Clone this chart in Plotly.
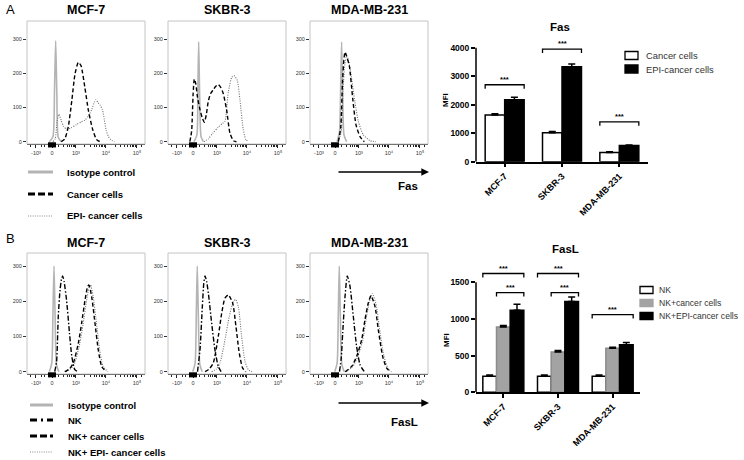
import plotly.graph_objects as go

W, H = 744, 460
FONT = "Liberation Sans, Arial, sans-serif"

# ------------------------------------------------------------------ data
hist_titles = ["MCF-7", "SKBR-3", "MDA-MB-231"]
fas_hist_series = ["Isotype control", "Cancer cells", "EPI- cancer cells"]
fasl_hist_series = ["Isotype control", "NK", "NK+ cancer cells", "NK+ EPI- cancer cells"]
flow_tick_pos = [7.6, 21.2, 41.5, 66.9, 93.2]          # channel % of the display scale
flow_tick_labels = ["-10³", "0", "10³", "10⁴", "10⁵"]
count_ticks = [0, 100, 200, 300]

# Panel A (Fas) histograms: x = channel (% of display), y = count
a1_iso_x = [19, 22, 23.3, 24.3, 25.3, 26.5, 29]
a1_iso_y = [0, 15, 150, 295, 140, 12, 0]
a1_can_x = [29, 32, 35, 38, 40.7, 43.5, 45.8, 49, 52, 55.7, 59, 62]
a1_can_y = [0, 8, 44, 121, 198, 232, 222, 159, 92, 35, 6, 0]
a1_epi_x = [22, 24, 25.5, 27, 29, 31, 33.5, 37, 42, 46, 49, 52, 55, 57, 58.5, 60, 62, 64, 65.5, 67, 69, 71, 74]
a1_epi_y = [0, 10, 60, 80, 62, 45, 37, 40, 50, 58, 63, 75, 95, 115, 123, 115, 107, 92, 65, 35, 15, 6, 0]

a2_iso_x = [22, 24.5, 25.3, 26, 26.8, 28, 30]
a2_iso_y = [0, 20, 150, 292, 140, 15, 0]
a2_can_x = [18.5, 20, 21.3, 22.3, 23.5, 25, 27, 29, 30.8, 32.5, 34, 36, 38.4, 40.5, 42.6, 44.8, 46.9, 49.7, 52.5, 55.4, 58]
a2_can_y = [0, 30, 140, 183, 170, 130, 95, 70, 57, 80, 115, 140, 152, 162, 167, 158, 140, 92, 25, 3, 0]
a2_epi_x = [30.5, 34, 38, 42.4, 46.4, 48.3, 51.1, 54, 55.9, 58.7, 61, 63.8, 66, 68.5]
a2_epi_y = [0, 8, 25, 42, 54, 60, 145, 188, 193, 179, 121, 35, 6, 0]

a3_iso_x = [23, 25, 26, 26.8, 27.6, 28.8, 31]
a3_iso_y = [0, 30, 160, 291, 150, 20, 0]
a3_can_x = [24, 26, 27.5, 28.7, 29.7, 31, 33.3, 36.2, 39, 42.4, 46]
a3_can_y = [0, 40, 170, 240, 262, 250, 222, 126, 49, 15, 0]
a3_epi_x = [24, 26.5, 28, 29.5, 31.1, 32.5, 34.5, 38.1, 41, 45.2, 50.8, 56]
a3_epi_y = [0, 30, 150, 225, 251, 240, 203, 116, 59, 20, 3, 0]

# Panel B (FasL) histograms
b1_iso_x = [19, 21, 22, 22.9, 23.8, 25, 27]
b1_iso_y = [0, 25, 170, 300, 160, 20, 0]
b1_nk_x = [23.5, 25.1, 26.5, 28, 29.2, 30.2, 31.5, 33.5, 36, 38, 40.5, 43]
b1_nk_y = [0, 30, 157, 232, 262, 272, 255, 204, 110, 43, 6, 0]
b1_cn_x = [32, 36, 39.3, 43.5, 46.3, 49.2, 51.4, 52.5, 54.8, 57.6, 60.4, 63.3, 67]
b1_cn_y = [0, 8, 25, 81, 138, 204, 242, 246, 213, 138, 62, 15, 0]
b1_epi_x = [33, 37, 40.5, 44.7, 47.5, 50.4, 52.6, 53.8, 56, 58.8, 61.6, 64.5, 68.5]
b1_epi_y = [0, 8, 25, 80, 135, 200, 240, 247, 215, 140, 62, 15, 0]

b2_iso_x = [21, 23, 24, 24.8, 25.7, 27, 29]
b2_iso_y = [0, 25, 170, 300, 160, 20, 0]
b2_nk_x = [25, 27.1, 29.1, 30.3, 31.4, 32.8, 34.2, 37, 39.8, 42.6, 45]
b2_nk_y = [0, 62, 185, 250, 272, 255, 223, 138, 62, 15, 0]
b2_cn_x = [31.4, 35, 38.4, 42.6, 45.5, 48.3, 51.1, 54.8, 57.6, 60.4, 63.3, 66]
b2_cn_y = [0, 8, 25, 100, 166, 209, 218, 195, 128, 53, 10, 0]
b2_epi_x = [37, 41, 44.1, 48.3, 51.9, 55.4, 57.3, 59.6, 62.4, 65.3, 68, 71]
b2_epi_y = [0, 8, 25, 91, 157, 199, 205, 185, 100, 29, 6, 0]

b3_iso_x = [21, 23, 24, 24.8, 25.7, 27, 29]
b3_iso_y = [0, 25, 170, 300, 160, 20, 0]
b3_nk_x = [25, 26.5, 27.7, 29.7, 31.6, 33.9, 36.7, 39.5, 42.4, 46]
b3_nk_y = [0, 40, 110, 214, 272, 242, 157, 72, 20, 0]
b3_cn_x = [29.7, 35.3, 39.5, 43.8, 46.6, 49.4, 51.7, 55.1, 57.9, 61.6, 65, 68]
b3_cn_y = [0, 15, 43, 91, 148, 195, 216, 185, 119, 43, 10, 0]
b3_epi_x = [30.7, 36.3, 40.5, 44.8, 47.6, 50.4, 52.8, 56.1, 58.9, 62.6, 66, 69]
b3_epi_y = [0, 15, 43, 91, 150, 200, 222, 190, 122, 45, 10, 0]

# Bar charts
bar_categories = ["MCF-7", "SKBR-3", "MDA-MB-231"]
fas_series = ["Cancer cells", "EPI-cancer cells"]
fas_cancer = [1640, 1020, 320]
fas_cancer_err = [40, 40, 25]
fas_epi = [2170, 3330, 570]
fas_epi_err = [90, 100, 20]
fas_ticks = [0, 1000, 2000, 3000, 4000]

fasl_series = ["NK", "NK+cancer cells", "NK+EPI-cancer cells"]
fasl_nk = [220, 220, 220]
fasl_nk_err = [15, 15, 15]
fasl_cancer = [890, 550, 600]
fasl_cancer_err = [20, 20, 15]
fasl_epi = [1120, 1240, 650]
fasl_epi_err = [80, 60, 30]
fasl_ticks = [0, 500, 1000, 1500]
sig_label = "***"
# significance brackets: (category, left offset, right offset, height)
fas_sig = [("MCF-7", -0.34, 0.34, 2700), ("SKBR-3", -0.34, 0.34, 3950), ("MDA-MB-231", -0.34, 0.34, 1400)]
fasl_sig = [("MCF-7", -0.375, 0.375, 1620), ("MCF-7", -0.125, 0.375, 1360),
            ("SKBR-3", -0.375, 0.375, 1620), ("SKBR-3", -0.125, 0.375, 1360),
            ("MDA-MB-231", -0.375, 0.375, 1060)]

# ------------------------------------------------------------------ helpers
def px(x):
    return x / W


def py(y):
    return 1 - y / H


def note(text, x, y, size, color="black", xanchor="center", **kw):
    return dict(text=text, x=px(x), y=py(y), xref="paper", yref="paper", xanchor=xanchor,
                yanchor="middle", showarrow=False, font=dict(family=FONT, size=size, color=color), **kw)


styles = {
    "iso": dict(color="#b4b4b4", width=1.6),
    "can": dict(color="black", width=1.4, dash="4px,2.5px"),
    "epi": dict(color="#6e6e6e", width=1.1, dash="1px,1.4px"),
    "nk": dict(color="black", width=1.4, dash="5px,2px,1.5px,2px"),
}

fig = go.Figure()
layout = {}
shapes = []
annotations = []


def axid(n):
    return ("x" if n == 1 else f"x{n}"), ("y" if n == 1 else f"y{n}")


def lname(n, a):
    return f"{a}axis" if n == 1 else f"{a}axis{n}"


hist_cols = [(27, 145), (168, 286), (310, 428)]
hist_rows = [((21, 144), [-6.7, 352.6], 10), ((253, 374), [-6.5, 337], 243)]

minor_flow = [3, 12, 15, 26.5, 31, 34, 36.3, 38, 39.3, 40.5, 49.1, 53.6, 56.8, 59.3, 61.3,
              63.0, 64.4, 65.7, 74.8, 79.4, 82.7, 85.3, 87.4, 89.1, 90.6, 92.0, 97]

panels = [
    [(a1_iso_x, a1_iso_y, "iso"), (a1_epi_x, a1_epi_y, "epi"), (a1_can_x, a1_can_y, "can")],
    [(a2_iso_x, a2_iso_y, "iso"), (a2_epi_x, a2_epi_y, "epi"), (a2_can_x, a2_can_y, "can")],
    [(a3_iso_x, a3_iso_y, "iso"), (a3_epi_x, a3_epi_y, "epi"), (a3_can_x, a3_can_y, "can")],
    [(b1_iso_x, b1_iso_y, "iso"), (b1_epi_x, b1_epi_y, "epi"), (b1_nk_x, b1_nk_y, "nk"), (b1_cn_x, b1_cn_y, "can")],
    [(b2_iso_x, b2_iso_y, "iso"), (b2_epi_x, b2_epi_y, "epi"), (b2_nk_x, b2_nk_y, "nk"), (b2_cn_x, b2_cn_y, "can")],
    [(b3_iso_x, b3_iso_y, "iso"), (b3_epi_x, b3_epi_y, "epi"), (b3_nk_x, b3_nk_y, "nk"), (b3_cn_x, b3_cn_y, "can")],
]

n = 0
for r, ((ytop, ybot), yr, ty) in enumerate(hist_rows):
    for c, (xl, xr) in enumerate(hist_cols):
        n += 1
        xa, ya = axid(n)
        for xs, ys, st in panels[n - 1]:
            fig.add_trace(go.Scatter(x=xs, y=ys, mode="lines", xaxis=xa, yaxis=ya,
                                     line=dict(**styles[st], shape="spline", smoothing=0.6),
                                     hoverinfo="skip", showlegend=False))
        layout[lname(n, "x")] = dict(
            domain=[px(xl), px(xr)], range=[0, 100], anchor=ya, showgrid=False, zeroline=False,
            showline=True, linecolor="#222", linewidth=1, ticks="outside", ticklen=3, tickwidth=1,
            tickcolor="#222", tickvals=flow_tick_pos, ticktext=flow_tick_labels,
            tickfont=dict(family=FONT, size=5.5, color="#333"),
            minor=dict(tickvals=minor_flow, ticks="outside", ticklen=2, tickcolor="#222", showgrid=False),
        )
        layout[lname(n, "y")] = dict(
            domain=[py(ybot), py(ytop)], range=yr, anchor=xa, showgrid=False, zeroline=False,
            showline=False, ticks="outside", ticklen=3, tickwidth=1, tickcolor="#333",
            tickvals=count_ticks, tickfont=dict(family=FONT, size=5.5, color="#333"),
        )
        shapes.append(dict(type="rect", xref=f"{xa} domain", yref=f"{ya} domain", x0=0, x1=1, y0=0, y1=1,
                           line=dict(color="#c4c4c4", width=1), layer="above"))
        shapes.append(dict(type="rect", xref=xa, yref=f"{ya} domain", x0=17.8, x1=24.6, y0=-0.028, y1=0.014,
                           line=dict(width=0), fillcolor="black", layer="above"))
        annotations.append(note(f"<b>{hist_titles[c]}</b>", (xl + xr) / 2, ty, 12.5))

# panel letters
annotations.append(note("A", 4, 9, 13, xanchor="left"))
annotations.append(note("B", 4, 238, 13, xanchor="left"))

# histogram legends (line samples + text)
leg_A = [(172, "iso"), (194, "can"), (216, "epi")]
leg_B = [(405, "iso"), (420, "nk"), (436, "can"), (452, "epi")]
leg_line_style = {
    "iso": dict(color="#b4b4b4", width=3),
    "can": dict(color="black", width=3, dash="7px,3px"),
    "epi": dict(color="#8a8a8a", width=1, dash="1px,1.3px"),
    "nk": dict(color="black", width=3, dash="7px,4px,2px,4px"),
}
for (yy, st), name in zip(leg_A, fas_hist_series):
    shapes.append(dict(type="line", xref="paper", yref="paper", x0=px(28), x1=px(53), y0=py(yy), y1=py(yy),
                       line=leg_line_style[st]))
    annotations.append(note(f"<b>{name}</b>", 65, yy, 9.5, xanchor="left"))
for (yy, st), name in zip(leg_B, fasl_hist_series):
    shapes.append(dict(type="line", xref="paper", yref="paper", x0=px(30), x1=px(53), y0=py(yy), y1=py(yy),
                       line=leg_line_style[st]))
    annotations.append(note(f"<b>{name}</b>", 66, yy, 9.5, xanchor="left"))

# arrows + marker names
for yy, ly, lab, lx in [(172, 186, "Fas", 408), (403, 422, "FasL", 405)]:
    annotations.append(dict(text="", x=px(429), y=py(yy), xref="paper", yref="paper", ax=-92, ay=0,
                            showarrow=True, arrowhead=2, arrowsize=1.1, arrowwidth=1.4, arrowcolor="black",
                            standoff=0))
    annotations.append(note(f"<b>{lab}</b>", lx, ly, 11.5))

# ------------------------------------------------------------------ bar charts
def bar_axes(n, xd, yd, yr, ticks):
    xa, ya = axid(n)
    layout[lname(n, "x")] = dict(
        domain=[px(xd[0]), px(xd[1])], range=[-0.5, 2.5], type="category", categoryarray=bar_categories,
        anchor=ya, showgrid=False, zeroline=False, showline=True, linecolor="black", linewidth=1.5,
        ticks="outside", ticklen=4, tickwidth=1.5, tickcolor="black", tickangle=-45,
        tickfont=dict(family=FONT, size=9, color="black", weight="bold"),
    )
    layout[lname(n, "y")] = dict(
        domain=[py(yd[1]), py(yd[0])], range=yr, anchor=xa, showgrid=False, zeroline=False,
        showline=False, ticks="outside", ticklen=4, tickwidth=1.5, tickcolor="black", tickvals=ticks,
        tickfont=dict(family=FONT, size=8.5, color="black", weight="bold"),
    )
    shapes.append(dict(type="line", xref=f"{xa} domain", yref=ya, x0=0, x1=0, y0=0, y1=ticks[-1],
                       line=dict(color="black", width=1.5)))
    return xa, ya


err_style = dict(type="data", symmetric=False, color="black", thickness=1.5, width=3.5)

xa7, ya7 = bar_axes(7, (476, 648), (38, 161.7), [0, 4340], fas_ticks)
for vals, errs, fill, off in [(fas_cancer, fas_cancer_err, "white", -0.34), (fas_epi, fas_epi_err, "black", 0.0)]:
    fig.add_trace(go.Bar(x=bar_categories, y=vals, width=0.34, offset=off, xaxis=xa7, yaxis=ya7,
                         marker=dict(color=fill, line=dict(color="black", width=1.5)),
                         error_y=dict(**err_style, array=errs, arrayminus=[0] * len(errs)),
                         showlegend=False, hoverinfo="skip"))

xa8, ya8 = bar_axes(8, (476, 640), (262, 392.3), [0, 1777], fasl_ticks)
for vals, errs, fill, lc, off in [(fasl_nk, fasl_nk_err, "white", "black", -0.375),
                                  (fasl_cancer, fasl_cancer_err, "#a3a3a3", "#8c8c8c", -0.125),
                                  (fasl_epi, fasl_epi_err, "black", "black", 0.125)]:
    fig.add_trace(go.Bar(x=bar_categories, y=vals, width=0.25, offset=off, xaxis=xa8, yaxis=ya8,
                         marker=dict(color=fill, line=dict(color=lc, width=1.5)),
                         error_y=dict(**err_style, array=errs, arrayminus=[0] * len(errs)),
                         showlegend=False, hoverinfo="skip"))

cat_index = {c: i for i, c in enumerate(bar_categories)}
for sigs, xa, ya, drop in [(fas_sig, xa7, ya7, 140), (fasl_sig, xa8, ya8, 55)]:
    for cat, l, r, h in sigs:
        i = cat_index[cat]
        shapes.append(dict(type="path", xref=xa, yref=ya,
                           path=f"M {i + l},{h - drop} L {i + l},{h} L {i + r},{h} L {i + r},{h - drop}",
                           line=dict(color="black", width=1.3)))
        annotations.append(dict(text=f"<b>{sig_label}</b>", x=i + (l + r) / 2, y=h, xref=xa, yref=ya,
                                xanchor="center", yanchor="bottom", showarrow=False, yshift=-1,
                                font=dict(family=FONT, size=7.5, color="black")))

# bar titles and MFI labels
annotations.append(note("<b>Fas</b>", 560, 27, 11.5))
annotations.append(note("<b>FasL</b>", 565, 249, 11.5))
for y in [100, 340]:
    annotations.append(note("<b>MFI</b>", 446, y, 8, textangle=-90))

# bar legends
for (yy, fill, lc), name in zip([(55.5, "white", "black"), (69, "black", "black")], fas_series):
    shapes.append(dict(type="rect", xref="paper", yref="paper", x0=px(625), x1=px(638), y0=py(yy + 4),
                       y1=py(yy - 4), fillcolor=fill, line=dict(color=lc, width=1.3)))
    annotations.append(note(name, 644, yy, 9.4, color="#333", xanchor="left"))
for (yy, fill, lc), name in zip([(290, "white", "black"), (303, "#a3a3a3", "#a3a3a3"), (316, "black", "black")],
                               fasl_series):
    shapes.append(dict(type="rect", xref="paper", yref="paper", x0=px(640), x1=px(653), y0=py(yy + 3.5),
                       y1=py(yy - 3.5), fillcolor=fill, line=dict(color=lc, width=1.3)))
    annotations.append(note(name, 657, yy, 8.6, color="#333", xanchor="left"))

fig.update_layout(
    width=W, height=H, margin=dict(l=0, r=0, t=0, b=0, autoexpand=False),
    paper_bgcolor="white", plot_bgcolor="white", barmode="overlay", showlegend=False,
    font=dict(family=FONT, color="black"), shapes=shapes, annotations=annotations, **layout,
)
fig.write_html("out.html", config={"displayModeBar": False},
               post_script="document.body.style.margin='0';document.body.style.overflow='hidden';")
